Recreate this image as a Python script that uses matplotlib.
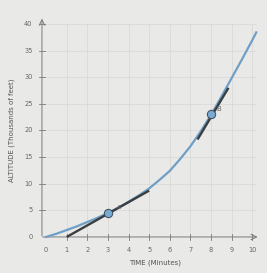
import matplotlib.pyplot as plt

# valors llegits del gràfic
temps = [0, 0.5, 1, 1.5, 2, 2.5, 3, 3.5, 4, 4.5, 5, 5.5, 6, 6.5, 7, 7.5, 8, 8.5, 9, 9.5, 10, 10.2]
altitud = [0, 0.6, 1.3, 2.0, 2.8, 3.6, 4.5, 5.5, 6.6, 7.8, 9.1, 10.7, 12.4, 14.6,
           17.0, 19.8, 22.9, 26.3, 29.8, 33.3, 36.9, 38.4]

tangent_a_x = [1, 5]
tangent_a_y = [0, 8.7]
tangent_b_x = [7.35, 8.85]
tangent_b_y = [18.3, 28]

punt_a = (3, 4.5)
punt_b = (8, 23)

x_ticks = list(range(0, 11))
y_ticks = list(range(0, 41, 5))

fig = plt.figure(figsize=(2.67, 2.73), dpi=100)
fig.patch.set_facecolor('#e9e9e7')
ax = fig.add_axes([0.134, 0.1125, 0.849, 0.839])
ax.set_facecolor('#e9e9e7')
ax.set_xlim(-0.5, 10.5)
ax.set_ylim(-1, 42)
for s in ax.spines.values():
    s.set_visible(False)
ax.set_xticks([])
ax.set_yticks([])

# quadrícula
for x in x_ticks[1:]:
    ax.plot([x, x], [0, 40], color='#dadad8', lw=0.6, zorder=0)
for y in y_ticks[1:]:
    ax.plot([-0.2, 10.2], [y, y], color='#dadad8', lw=0.6, zorder=0)

# eixos amb fletxes
ax.annotate('', xy=(-0.2, 41.5), xytext=(-0.2, -0.3),
            arrowprops=dict(arrowstyle='->', color='#7a7a7a', lw=0.7))
ax.annotate('', xy=(10.4, 0), xytext=(-0.3, 0),
            arrowprops=dict(arrowstyle='->', color='#7a7a7a', lw=0.7))
for x in x_ticks[1:]:
    ax.plot([x, x], [-0.6, 0.6], color='#7a7a7a', lw=0.6)
for y in y_ticks[1:]:
    ax.plot([-0.35, -0.05], [y, y], color='#7a7a7a', lw=0.6)

for x in x_ticks:
    ax.text(x, -1.9, str(x), ha='center', va='top', fontsize=4.8, color='#666666')
for y in y_ticks:
    ax.text(-0.65, y, str(y), ha='right', va='center', fontsize=4.8, color='#666666')

ax.text(5.3, -4.3, 'TIME (Minutes)', ha='center', va='top', fontsize=5, color='#555555')
ax.text(-1.65, 20, 'ALTITUDE (Thousands of feet)', rotation=90, ha='center', va='center',
        fontsize=5, color='#555555')

# corba i tangents
ax.plot(temps, altitud, color='#6f9fc6', lw=1.6, zorder=3, clip_on=False)
ax.plot(tangent_a_x, tangent_a_y, color='#3b3e40', lw=1.7, zorder=4, solid_capstyle='butt')
ax.plot(tangent_b_x, tangent_b_y, color='#3b3e40', lw=1.7, zorder=4, solid_capstyle='butt')

ax.plot(*punt_a, 'o', ms=6, color='#78aad4', mec='#3b4a58', mew=0.7, zorder=5)
ax.plot(*punt_b, 'o', ms=6, color='#78aad4', mec='#3b4a58', mew=0.7, zorder=5)
ax.text(3.45, 5.2, 'A', fontsize=4.5, color='#666666', zorder=6)
ax.text(8.25, 23.6, 'B', fontsize=5, color='#666666', zorder=6)

fig.savefig('out.png', dpi=100, facecolor=fig.get_facecolor())
